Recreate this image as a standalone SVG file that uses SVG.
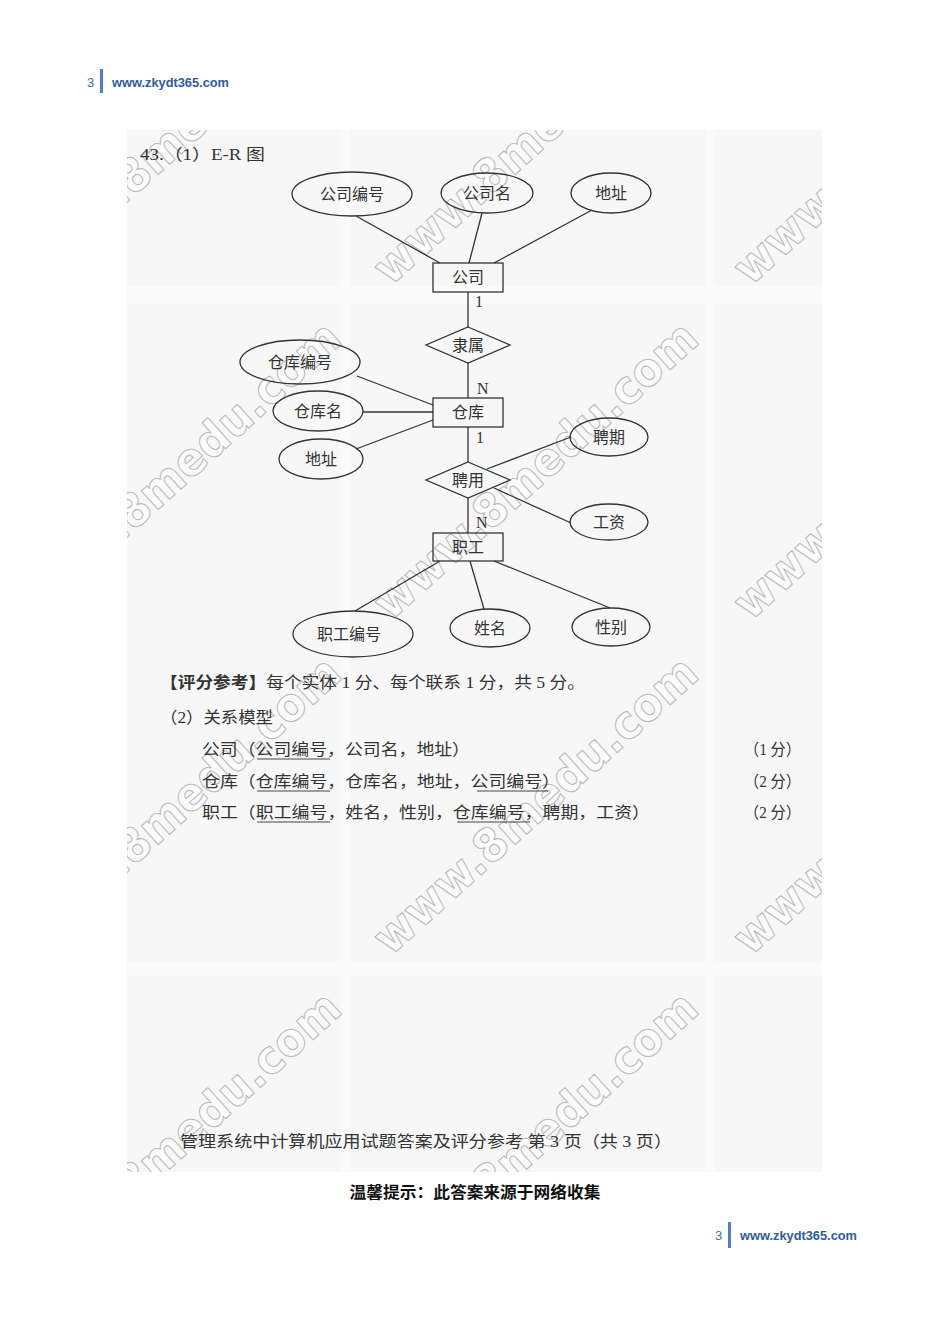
<svg xmlns="http://www.w3.org/2000/svg" width="950" height="1344" viewBox="0 0 950 1344">
<style>
.hdr{font-family:"Liberation Sans","DejaVu Sans",sans-serif;font-size:13px;fill:#4a6fa5}
.hdrb{font-family:"Liberation Sans","DejaVu Sans",sans-serif;font-size:13px;font-weight:bold;fill:#2e5c9a}
.cj{font-family:"Liberation Serif","Noto Sans CJK SC",serif;font-size:16px;fill:#333}
.lbl{font-family:"Liberation Serif","Noto Sans CJK SC",serif;font-size:16px;fill:#333;text-anchor:middle}
.shape{fill:none;stroke:#333;stroke-width:1.3}
.con{stroke:#333;stroke-width:1.3;fill:none}
.wm{font-family:"DejaVu Sans",sans-serif;font-weight:bold;font-size:46px;fill:#fbfbfb;stroke:#bcbcbc;stroke-width:1.1;stroke-linejoin:round}
.ul{stroke:#444;stroke-width:1}
</style>
<defs>
<clipPath id="scan"><rect x="127" y="130" width="695" height="1042"/></clipPath>
</defs>
<rect width="950" height="1344" fill="#fff"/>

<!-- page header -->
<g id="header">
<text class="hdr" x="87" y="87">3</text>
<rect x="100" y="69" width="3" height="24" fill="#4f7fc0"/>
<text class="hdrb" x="112" y="87" textLength="117" lengthAdjust="spacingAndGlyphs">www.zkydt365.com</text>
</g>

<!-- scanned page background -->
<g id="scan-bg">
<rect x="127" y="130" width="695" height="1042" fill="#f7f7f7"/>
<rect x="340" y="130" width="10" height="1042" fill="#fafafa"/>
<rect x="706" y="130" width="9" height="1042" fill="#fafafa"/>
<rect x="127" y="286" width="695" height="18" fill="#fafafa"/>
<rect x="127" y="962" width="695" height="14" fill="#fafafa"/>
</g>

<!-- watermarks -->
<g id="watermarks" clip-path="url(#scan)">
<text class="wm" transform="translate(535,135) rotate(-42)" text-anchor="middle" y="16" textLength="418" lengthAdjust="spacingAndGlyphs">www.8medu.com</text>
<text class="wm" transform="translate(535,470) rotate(-42)" text-anchor="middle" y="16" textLength="418" lengthAdjust="spacingAndGlyphs">www.8medu.com</text>
<text class="wm" transform="translate(535,805) rotate(-42)" text-anchor="middle" y="16" textLength="418" lengthAdjust="spacingAndGlyphs">www.8medu.com</text>
<text class="wm" transform="translate(535,1140) rotate(-42)" text-anchor="middle" y="16" textLength="418" lengthAdjust="spacingAndGlyphs">www.8medu.com</text>
<text class="wm" transform="translate(178,135) rotate(-42)" text-anchor="middle" y="16" textLength="418" lengthAdjust="spacingAndGlyphs">www.8medu.com</text>
<text class="wm" transform="translate(178,470) rotate(-42)" text-anchor="middle" y="16" textLength="418" lengthAdjust="spacingAndGlyphs">www.8medu.com</text>
<text class="wm" transform="translate(178,805) rotate(-42)" text-anchor="middle" y="16" textLength="418" lengthAdjust="spacingAndGlyphs">www.8medu.com</text>
<text class="wm" transform="translate(178,1140) rotate(-42)" text-anchor="middle" y="16" textLength="418" lengthAdjust="spacingAndGlyphs">www.8medu.com</text>
<text class="wm" transform="translate(895,135) rotate(-42)" text-anchor="middle" y="16" textLength="418" lengthAdjust="spacingAndGlyphs">www.8medu.com</text>
<text class="wm" transform="translate(895,470) rotate(-42)" text-anchor="middle" y="16" textLength="418" lengthAdjust="spacingAndGlyphs">www.8medu.com</text>
<text class="wm" transform="translate(895,805) rotate(-42)" text-anchor="middle" y="16" textLength="418" lengthAdjust="spacingAndGlyphs">www.8medu.com</text>
</g>

<text class="cj" x="140" y="160" textLength="125" lengthAdjust="spacingAndGlyphs">43.（1）E-R 图</text>

<!-- connectors -->
<g id="connectors">
<line class="con" x1="356" y1="216" x2="440" y2="263"/>
<line class="con" x1="482" y1="213" x2="469" y2="263"/>
<line class="con" x1="592" y1="210" x2="494" y2="263"/>
<line class="con" x1="468" y1="292" x2="468" y2="327"/>
<line class="con" x1="468" y1="363" x2="468" y2="398"/>
<line class="con" x1="357" y1="376" x2="433" y2="405"/>
<line class="con" x1="363" y1="412" x2="433" y2="412"/>
<line class="con" x1="356" y1="449" x2="433" y2="420"/>
<line class="con" x1="468" y1="427" x2="468" y2="462"/>
<line class="con" x1="487" y1="469" x2="571" y2="437"/>
<line class="con" x1="494" y1="488" x2="571" y2="523"/>
<line class="con" x1="468" y1="498" x2="468" y2="533"/>
<line class="con" x1="440" y1="561" x2="355" y2="611"/>
<line class="con" x1="470" y1="561" x2="484" y2="609"/>
<line class="con" x1="494" y1="561" x2="610" y2="608"/>
<text class="cj" x="475" y="307">1</text>
<text class="cj" x="477" y="394">N</text>
<text class="cj" x="476" y="443">1</text>
<text class="cj" x="476" y="528">N</text>
</g>

<!-- company -->
<g id="attr-company-no"><ellipse class="shape" cx="352" cy="194" rx="60" ry="22"/><text class="lbl" x="352" y="200">公司编号</text></g>
<g id="attr-company-name"><ellipse class="shape" cx="487" cy="193" rx="46" ry="20"/><text class="lbl" x="487" y="199">公司名</text></g>
<g id="attr-company-addr"><ellipse class="shape" cx="611" cy="193" rx="40" ry="20"/><text class="lbl" x="611" y="199">地址</text></g>
<g id="entity-company"><rect class="shape" x="433" y="263" width="70" height="29"/><text class="lbl" x="468" y="283">公司</text></g>
<g id="rel-belong"><polygon class="shape" points="468,327 510,345 468,363 426,345"/><text class="lbl" x="468" y="351">隶属</text></g>

<!-- warehouse -->
<g id="attr-wh-no"><ellipse class="shape" cx="300" cy="362" rx="60" ry="22"/><text class="lbl" x="300" y="368">仓库编号</text></g>
<g id="attr-wh-name"><ellipse class="shape" cx="318" cy="411" rx="45" ry="20"/><text class="lbl" x="318" y="417">仓库名</text></g>
<g id="attr-wh-addr"><ellipse class="shape" cx="321" cy="459" rx="42" ry="20"/><text class="lbl" x="321" y="465">地址</text></g>
<g id="entity-warehouse"><rect class="shape" x="433" y="398" width="70" height="29"/><text class="lbl" x="468" y="418">仓库</text></g>
<g id="rel-hire"><polygon class="shape" points="468,462 510,480 468,498 426,480"/><text class="lbl" x="468" y="486">聘用</text></g>
<g id="attr-term"><ellipse class="shape" cx="609" cy="437" rx="39" ry="19"/><text class="lbl" x="609" y="443">聘期</text></g>
<g id="attr-salary"><ellipse class="shape" cx="609" cy="522" rx="39" ry="18"/><text class="lbl" x="609" y="528">工资</text></g>

<!-- employee -->
<g id="entity-employee"><rect class="shape" x="433" y="533" width="70" height="28"/><text class="lbl" x="468" y="553">职工</text></g>
<g id="attr-emp-no"><ellipse class="shape" cx="353" cy="634" rx="60" ry="23"/><text class="lbl" x="349" y="640">职工编号</text></g>
<g id="attr-emp-name"><ellipse class="shape" cx="490" cy="628" rx="40" ry="19"/><text class="lbl" x="490" y="634">姓名</text></g>
<g id="attr-emp-sex"><ellipse class="shape" cx="611" cy="627" rx="39" ry="19"/><text class="lbl" x="611" y="633">性别</text></g>

<!-- answer text -->
<g id="answer">
<text class="cj" x="160" y="688" textLength="425" lengthAdjust="spacingAndGlyphs"><tspan font-weight="bold">【评分参考】</tspan>每个实体 1 分、每个联系 1 分，共 5 分。</text>
<text class="cj" x="160" y="723" textLength="113" lengthAdjust="spacingAndGlyphs">（2）关系模型</text>
<text class="cj" x="202" y="755" textLength="268" lengthAdjust="spacingAndGlyphs">公司（公司编号，公司名，地址）</text>
<text class="cj" x="202" y="787" textLength="358" lengthAdjust="spacingAndGlyphs">仓库（仓库编号，仓库名，地址，公司编号）</text>
<text class="cj" x="202" y="818" textLength="448" lengthAdjust="spacingAndGlyphs">职工（职工编号，姓名，性别，仓库编号，聘期，工资）</text>
<text class="cj" x="744" y="755" textLength="57" lengthAdjust="spacingAndGlyphs">（1 分）</text>
<text class="cj" x="744" y="787" textLength="57" lengthAdjust="spacingAndGlyphs">（2 分）</text>
<text class="cj" x="744" y="818" textLength="57" lengthAdjust="spacingAndGlyphs">（2 分）</text>
<line class="ul" x1="257" y1="759" x2="330" y2="759"/>
<line class="ul" x1="257" y1="791" x2="330" y2="791"/>
<line class="ul" x1="477" y1="791" x2="548" y2="791"/>
<line class="ul" x1="257" y1="822" x2="330" y2="822"/>
<line class="ul" x1="457" y1="822" x2="530" y2="822"/>
</g>

<text class="cj" x="180" y="1147" textLength="492" lengthAdjust="spacingAndGlyphs">管理系统中计算机应用试题答案及评分参考 第 3 页（共 3 页）</text>

<text x="475" y="1198" text-anchor="middle" font-family="'Noto Sans CJK SC',sans-serif" font-size="16" font-weight="bold" fill="#111" textLength="251" lengthAdjust="spacingAndGlyphs">温馨提示：此答案来源于网络收集</text>

<!-- page footer -->
<g id="footer">
<text class="hdr" x="715" y="1240">3</text>
<rect x="728" y="1222" width="3" height="26" fill="#4f7fc0"/>
<text class="hdrb" x="740" y="1240" textLength="117" lengthAdjust="spacingAndGlyphs">www.zkydt365.com</text>
</g>
</svg>
